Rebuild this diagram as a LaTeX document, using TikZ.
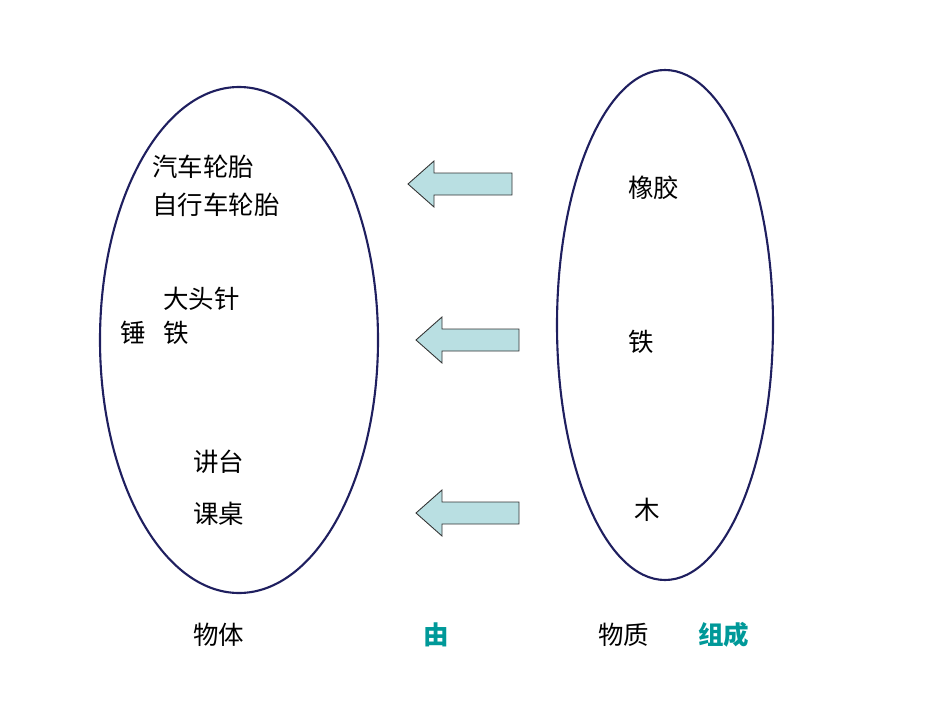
\documentclass[tikz,border=0pt]{standalone}
\usepackage{fontspec}
\setmainfont{Noto Sans CJK SC}
\usetikzlibrary{positioning}
\definecolor{ringblue}{HTML}{1F1F5F}
\definecolor{arrowfill}{HTML}{B9DFE2}
\definecolor{tealtext}{HTML}{009999}
\tikzset{
  ring/.style={draw=ringblue, line width=1.2pt},
  word/.style={anchor=west, inner sep=0pt, font=\fontsize{14.5}{17}\selectfont},
  keyword/.style={word, text=tealtext, font=\fontsize{14.5}{17}\selectfont\bfseries},
  blockarrow/.style={draw=black!80, fill=arrowfill, line width=0.5pt}
}
% left block arrow: tip x, tail x, mid y (pixels)
\newcommand{\leftarrowblock}[3]{%
  \draw[blockarrow] (#1,#3) -- (#1+26,#3-23) -- (#1+26,#3-11) -- (#2,#3-11)
    -- (#2,#3+11) -- (#1+26,#3+11) -- (#1+26,#3+23) -- cycle;}
\begin{document}
\begin{tikzpicture}[x=0.02cm, y=-0.02cm]
\useasboundingbox (0,0) rectangle (950,713);
% the two sets
\draw[ring] (239,340) ellipse [x radius=139, y radius=253];
\draw[ring] (665,325) ellipse [x radius=108, y radius=255];
% arrows
\leftarrowblock{408}{512}{184}
\leftarrowblock{416}{519}{340}
\leftarrowblock{416}{519}{513}
% objects
\node[word] (tyre) at (152,167) {汽车轮胎};
\node[word] (biketyre) at (152,205) {自行车轮胎};
\node[word] (pin) at (163,299) {大头针};
\node[word] (hammer) at (120,333) {锤};
\node[word] (ironL) at (163,333) {铁};
\node[word] (desk) at (193,462) {讲台};
\node[word] (table) at (193,514) {课桌};
% materials
\node[word] (rubber) at (628,188) {橡胶};
\node[word] (ironR) at (628,342) {铁};
\node[word] (wood) at (634,510) {木};
% captions
\node[word] (objects) at (193,635) {物体};
\node[keyword] (by) at (423,635) {由};
\node[word] (matter) at (598,635) {物质};
\node[keyword] (made) at (698,635) {组成};
\end{tikzpicture}
\end{document}
